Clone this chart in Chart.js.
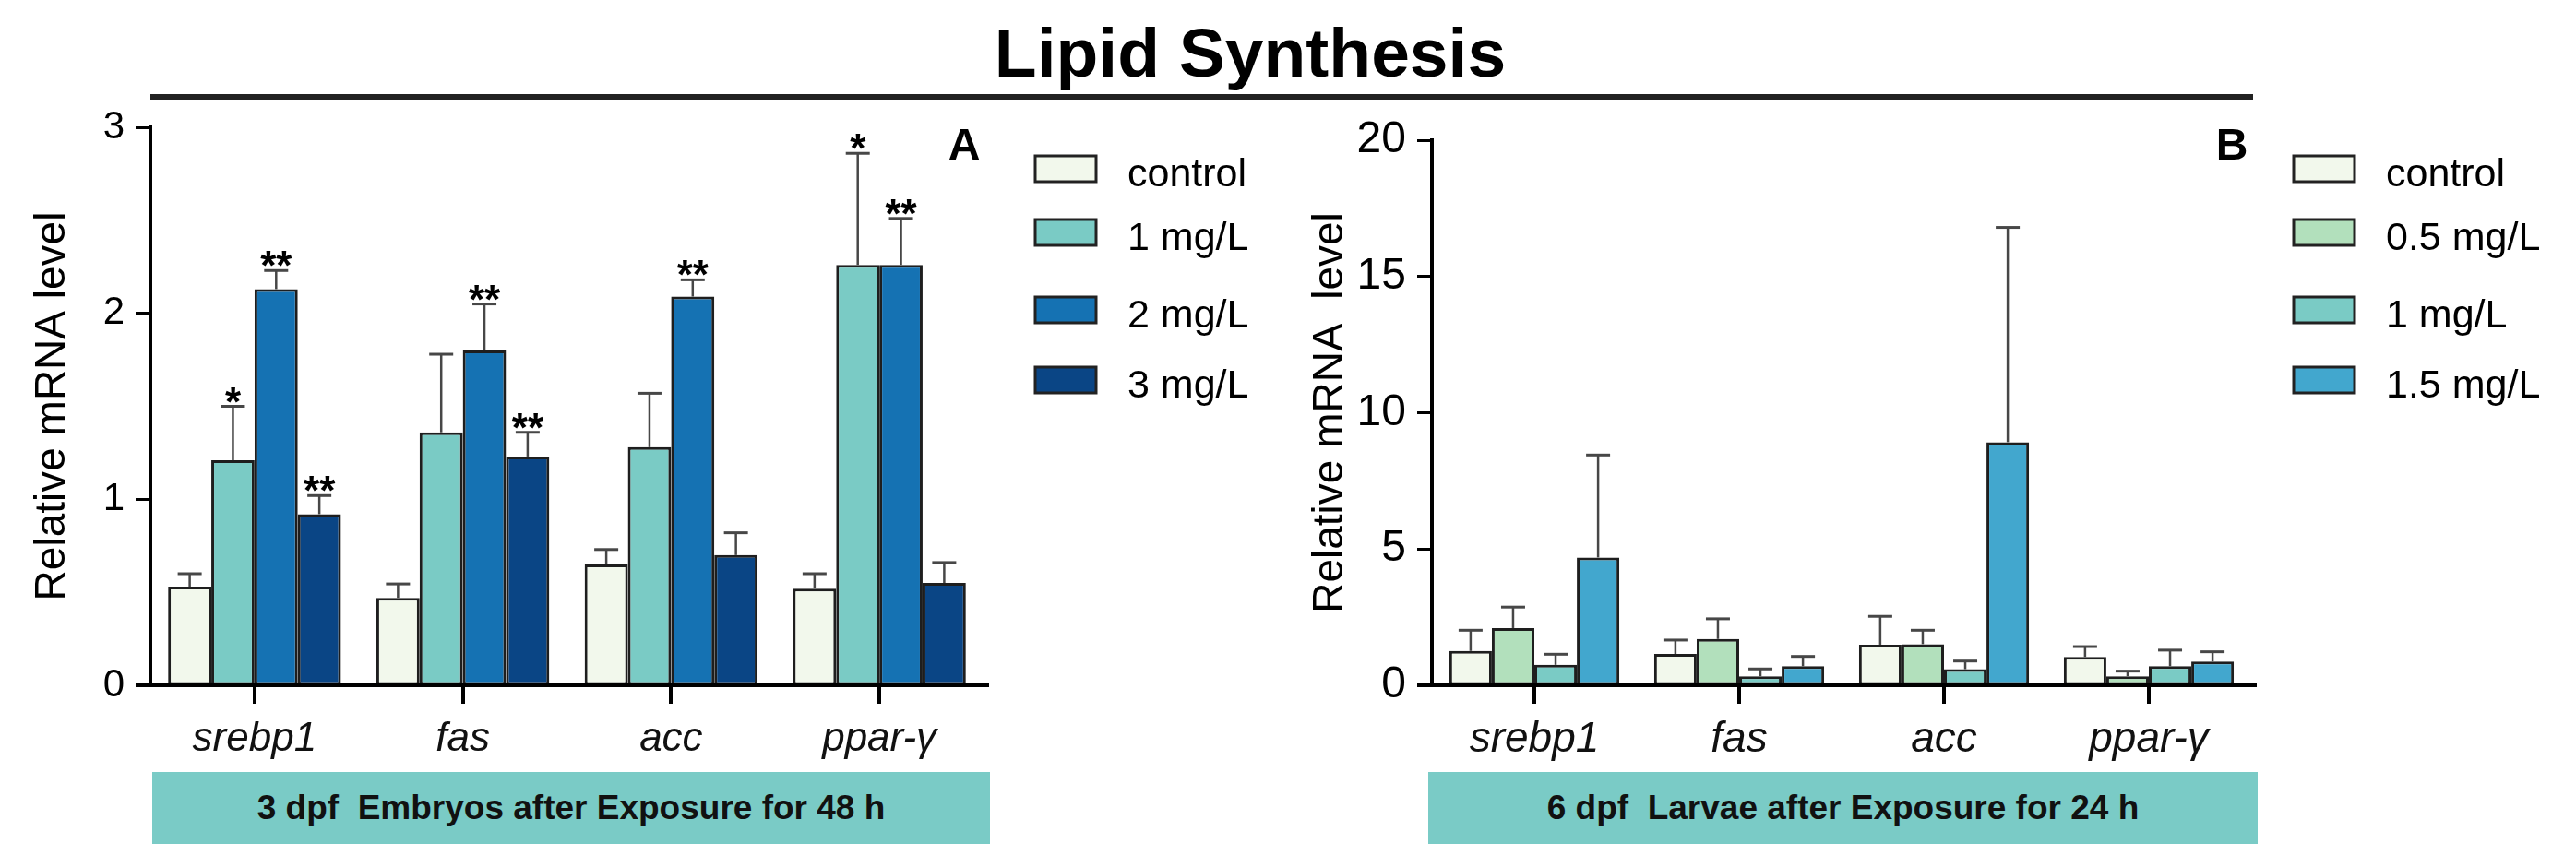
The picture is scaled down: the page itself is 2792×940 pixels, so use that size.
<!DOCTYPE html>
<html>
<head>
<meta charset="utf-8">
<title>Lipid Synthesis</title>
<script src="https://cdn.jsdelivr.net/npm/chart.js@4.4.1/dist/chart.umd.min.js"></script>
<style>
    body { margin: 0; background: #fff; }
    #wrap { position: relative; width: 2792px; height: 940px; overflow: hidden; font-family: "Liberation Sans", Arial, sans-serif; }
    #title { position: absolute; left: 0; top: 20px; width: 2710px; text-align: center; font-size: 75px; line-height: 75px; font-weight: bold; color: #000; }
    #rule { position: absolute; left: 163px; top: 102px; width: 2279px; height: 6px; background: #222; }
    canvas { position: absolute; top: 0; }
    #chartA { left: 0; }
    #chartB { left: 1396px; }
    .band { position: absolute; top: 837px; height: 78px; background: #7acbc6; display: flex; align-items: center; justify-content: center;
            font-size: 37px; font-weight: bold; color: #111; white-space: pre; }
    #bandA { left: 165px; width: 908px; }
    #bandB { left: 1548px; width: 899px; }
</style>
</head>
<body>
<div id="wrap">
    <div id="title">Lipid Synthesis</div>
    <div id="rule"></div>
    <canvas id="chartA" width="1396" height="940"></canvas>
    <canvas id="chartB" width="1396" height="940"></canvas>
    <div class="band" id="bandA">3 dpf  Embryos after Exposure for 48 h</div>
    <div class="band" id="bandB">6 dpf  Larvae after Exposure for 24 h</div>
</div>
<script>
/* data */

const genes = ["srebp1", "fas", "acc", "ppar-γ"];

// panel A : 3 dpf embryos
const groupsA = ["control", "1 mg/L", "2 mg/L", "3 mg/L"];
const controlA = [0.53, 0.47, 0.65, 0.52];
const mg1A = [1.21, 1.36, 1.28, 2.26];
const mg2A = [2.13, 1.80, 2.09, 2.26];
const mg3A = [0.92, 1.23, 0.70, 0.55];
const controlAErr = [0.07, 0.075, 0.08, 0.08];
const mg1AErr = [0.29, 0.42, 0.29, 0.60];
const mg2AErr = [0.10, 0.25, 0.09, 0.25];
const mg3AErr = [0.10, 0.13, 0.12, 0.11];
const mg1AStars = ["*", "", "", "*"];
const mg2AStars = ["**", "**", "**", "**"];
const mg3AStars = ["**", "**", "", ""];
const ticksA = [0, 1, 2, 3];

// panel B : 6 dpf larvae
const groupsB = ["control", "0.5 mg/L", "1 mg/L", "1.5 mg/L"];
const controlB = [1.26, 1.15, 1.49, 1.04];
const mg05B = [2.10, 1.70, 1.51, 0.33];
const mg1B = [0.75, 0.33, 0.59, 0.70];
const mg15B = [4.69, 0.70, 8.92, 0.87];
const controlBErr = [0.76, 0.51, 1.04, 0.38];
const mg05BErr = [0.77, 0.74, 0.51, 0.19];
const mg1BErr = [0.39, 0.27, 0.30, 0.59];
const mg15BErr = [3.76, 0.36, 7.88, 0.36];
const ticksB = [0, 5, 10, 15, 20];

const colorsA = ["#f2f8ec", "#7acbc5", "#1572b3", "#0a4585"];
const colorsB = ["#f2f8ec", "#b2e0bc", "#7acbc5", "#42a7ce"];

const FONT = '"Liberation Sans", Arial, sans-serif';

//error bars, stars, base line, category ticks, letter and legend
const extrasPlugin = {
    id: "extras",
    afterDatasetsDraw(chart, args, opts) {
        const ctx = chart.ctx;
        const yScale = chart.scales.y;
        ctx.save();
        chart.data.datasets.forEach((ds, i) => {
            const meta = chart.getDatasetMeta(i);
            meta.data.forEach((bar, j) => {
                const top = yScale.getPixelForValue(ds.data[j] + ds.errors[j]);
                ctx.strokeStyle = "#474747";
                ctx.lineWidth = 2.5;
                ctx.beginPath();
                ctx.moveTo(bar.x, bar.y);
                ctx.lineTo(bar.x, top);
                ctx.stroke();
                ctx.lineWidth = 3;
                ctx.beginPath();
                ctx.moveTo(bar.x - 13, top);
                ctx.lineTo(bar.x + 13, top);
                ctx.stroke();
                if (ds.stars && ds.stars[j]) {
                    ctx.fillStyle = "#000";
                    ctx.font = "bold 44px " + FONT;
                    ctx.textAlign = "center";
                    ctx.textBaseline = "alphabetic";
                    ctx.fillText(ds.stars[j], bar.x, top + 10);
                }
            });
        });
        ctx.restore();
    },
    afterDraw(chart, args, opts) {
        const ctx = chart.ctx;
        const area = chart.chartArea;
        const xScale = chart.scales.x;
        ctx.save();
        // x axis line, a bit longer than the plot area
        ctx.fillStyle = "#000";
        ctx.fillRect(area.left - 16, area.bottom - 2, area.right - area.left + 22, 4);
        // tick marks under each category
        genes.forEach((g, i) => {
            const x = xScale.getPixelForValue(i);
            ctx.fillRect(Math.round(x) - 2, area.bottom, 4, 20);
        });
        // panel letter
        ctx.font = "bold 48px " + FONT;
        ctx.textAlign = "center";
        ctx.textBaseline = "alphabetic";
        ctx.fillText(opts.letter, area.right - 21, 173);
        // legend
        ctx.font = "43px " + FONT;
        ctx.textAlign = "left";
        chart.data.datasets.forEach((ds, i) => {
            const y = opts.rows[i];
            ctx.fillStyle = ds.backgroundColor;
            ctx.fillRect(opts.x, y - 14, 66, 28);
            ctx.strokeStyle = "#222";
            ctx.lineWidth = 3;
            ctx.strokeRect(opts.x, y - 14, 66, 28);
            ctx.fillStyle = "#000";
            ctx.fillText(ds.label, opts.x + 100, y + 19);
        });
        ctx.restore();
    }
};

function makeDatasets(labels, values, errors, stars, colors) {
    return labels.map((label, i) => ({
        label: label,
        data: values[i],
        errors: errors[i],
        stars: stars[i],
        backgroundColor: colors[i],
        borderColor: "#1e1e1e",
        borderWidth: 3,
        borderSkipped: false,
        categoryPercentage: 0.83,
        barPercentage: 1.0
    }));
}

function drawPanel(canvasId, datasets, cfg) {
    const ctx = document.getElementById(canvasId).getContext("2d");
    return new Chart(ctx, {
        type: "bar",
        data: { labels: genes, datasets: datasets },
        plugins: [extrasPlugin],
        options: {
            responsive: false,
            animation: false,
            devicePixelRatio: 1,
            layout: { padding: { left: 0, top: cfg.top, right: cfg.right, bottom: 0 } },
            plugins: {
                legend: { display: false },
                tooltip: { enabled: false },
                extras: { letter: cfg.letter, x: cfg.legendX, rows: [183, 252, 336, 412] }
            },
            scales: {
                x: {
                    offset: true,
                    afterFit: scale => { scale.height = 197; },
                    grid: { display: false },
                    border: { display: false },
                    ticks: { color: "#111", padding: 24, font: { family: FONT, size: cfg.xFont, style: "italic" } }
                },
                y: {
                    min: 0,
                    max: cfg.ticks[cfg.ticks.length - 1],
                    afterFit: scale => { scale.width = cfg.axisX; },
                    afterBuildTicks: scale => { scale.ticks = cfg.ticks.map(v => ({ value: v })); },
                    grid: { drawOnChartArea: false, tickLength: 16, tickWidth: 3, tickColor: "#000" },
                    border: { display: true, color: "#000", width: 4 },
                    ticks: { color: "#000", padding: 12, font: { family: FONT, size: cfg.yFont } },
                    title: {
                        display: true,
                        text: cfg.yTitle,
                        color: "#000",
                        padding: { top: cfg.titlePad, bottom: 0 },
                        font: { family: FONT, size: 46 }
                    }
                }
            }
        }
    });
}

function onload() {
    const dsA = makeDatasets(groupsA,
        [controlA, mg1A, mg2A, mg3A],
        [controlAErr, mg1AErr, mg2AErr, mg3AErr],
        [null, mg1AStars, mg2AStars, mg3AStars],
        colorsA);
    drawPanel("chartA", dsA, {
        top: 138, right: 330, axisX: 163, ticks: ticksA, letter: "A", legendX: 1122,
        xFont: 44, yFont: 42, yTitle: "Relative mRNA level", titlePad: 30
    });

    const dsB = makeDatasets(groupsB,
        [controlB, mg05B, mg1B, mg15B],
        [controlBErr, mg05BErr, mg1BErr, mg15BErr],
        [null, null, null, null],
        colorsB);
    drawPanel("chartB", dsB, {
        top: 152, right: 352, axisX: 156, ticks: ticksB, letter: "B", legendX: 1090,
        xFont: 46, yFont: 48, yTitle: "Relative mRNA  level", titlePad: 19
    });
}

onload();
</script>
</body>
</html>
